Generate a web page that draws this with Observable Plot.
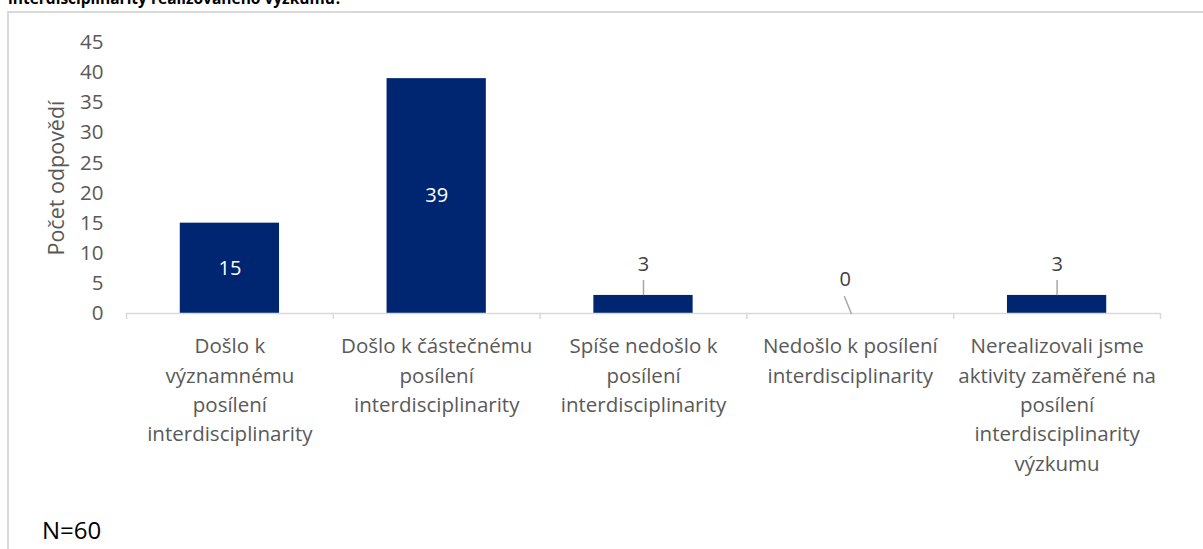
<!DOCTYPE html>
<html>
<head>
<meta charset="utf-8">
<script src="https://cdn.jsdelivr.net/npm/d3@7"></script>
<script src="https://cdn.jsdelivr.net/npm/@observablehq/plot@0.6"></script>
<style>
  html, body { margin: 0; padding: 0; background: #fff; overflow: hidden; }
  #wrap { position: relative; width: 1203px; height: 549px; overflow: hidden; font-family: "Open Sans", sans-serif; }
  #frame { position: absolute; left: 7px; top: 11px; width: 1300px; height: 700px; border: 2px solid #d9d9d9; box-sizing: border-box; pointer-events: none; }
  #title { position: absolute; left: 8px; top: -9px; font-size: 15.5px; font-weight: bold; line-height: 1; color: #000; white-space: nowrap; }
  #caption { position: absolute; left: 42px; top: 518px; font-size: 24px; line-height: 1; color: #000; }
  #chart { position: absolute; left: 0; top: 0; }
</style>
</head>
<body>
<div id="wrap">
  <div id="title"></div>
  <div id="frame"></div>
  <div id="chart"></div>
  <div id="caption"></div>
</div>
<script>
const titleText = "interdisciplinarity realizovaného výzkumu?";
const captionText = "N=60";
const yLabel = "Počet odpovědí";

const categories = [
  "Došlo k významnému posílení interdisciplinarity",
  "Došlo k částečnému posílení interdisciplinarity",
  "Spíše nedošlo k posílení interdisciplinarity",
  "Nedošlo k posílení interdisciplinarity",
  "Nerealizovali jsme aktivity zaměřené na posílení interdisciplinarity výzkumu"
];
const tickLabels = [
  "Došlo k\nvýznamnému\nposílení\ninterdisciplinarity",
  "Došlo k částečnému\nposílení\ninterdisciplinarity",
  "Spíše nedošlo k\nposílení\ninterdisciplinarity",
  "Nedošlo k posílení\ninterdisciplinarity",
  "Nerealizovali jsme\naktivity zaměřené na\nposílení\ninterdisciplinarity\nvýzkumu"
];
const values = [15, 39, 3, 0, 3];
const yTicks = [0, 5, 10, 15, 20, 25, 30, 35, 40, 45];

document.getElementById("title").textContent = titleText;
document.getElementById("caption").textContent = captionText;

const data = categories.map((c, i) => ({cat: c, value: values[i], label: tickLabels[i]}));
const inside = data.filter(d => d.value >= 10);
const outside = data.filter(d => d.value > 0 && d.value < 10);
const zero = data.filter(d => d.value === 0);

const W = 1203, H = 549, ML = 126, MR = 43, MT = 42, MB = 236;
const step = (W - ML - MR) / categories.length;
const labelOf = new Map(data.map(d => [d.cat, d.label]));
const line = {draw(ctx, l) { ctx.moveTo(0, 0); ctx.lineTo(0, -l); }};

const chart = Plot.plot({
  width: W,
  height: H,
  marginLeft: ML,
  marginRight: MR,
  marginTop: MT,
  marginBottom: MB,
  style: {fontFamily: "Open Sans, sans-serif", background: "transparent", overflow: "visible"},
  x: {domain: categories, paddingInner: 0.52, paddingOuter: 0.26, round: false, label: null},
  y: {domain: [0, 45], label: null},
  marks: [
    Plot.barY(data, {x: "cat", y: "value", fill: "#002672"}),
    Plot.ruleY([0], {stroke: "#d9d9d9", strokeWidth: 1.5}),
    Plot.ruleX(categories, {x: d => d, dx: -step / 2, y1: 0, y2: -1, stroke: "#d9d9d9", strokeWidth: 1.5}),
    Plot.ruleX([categories[categories.length - 1]], {x: d => d, dx: step / 2, y1: 0, y2: -1, stroke: "#d9d9d9", strokeWidth: 1.5}),
    Plot.axisY({ticks: yTicks, tickSize: 0, tickPadding: 23, fontSize: 20.5, color: "#595959", label: null}),
    Plot.axisX({tickSize: 0, tickPadding: 19, fontSize: 20.5, lineHeight: 1.43, color: "#595959", tickFormat: d => labelOf.get(d), label: null}),
    Plot.text([yLabel], {frameAnchor: "left", textAnchor: "middle", dx: -69, rotate: -90, fontSize: 21.5, fill: "#595959", text: d => d}),
    Plot.text(inside, {x: "cat", y: d => d.value / 2, text: d => String(d.value), fill: "white", fontSize: 20}),
    Plot.text(outside, {x: "cat", y: "value", text: d => String(d.value), fill: "#404040", fontSize: 20, dy: -31}),
    Plot.text(zero, {x: "cat", y: "value", text: d => String(d.value), fill: "#404040", fontSize: 20, dy: -34, dx: -5}),
    Plot.vector(outside, {x: "cat", y: "value", length: 14, rotate: 0, anchor: "start", shape: line, stroke: "#a6a6a6", strokeWidth: 1.5, dy: -1}),
    Plot.vector(zero, {x: "cat", y: "value", length: 18, rotate: -22, anchor: "start", shape: line, stroke: "#a6a6a6", strokeWidth: 1.5, dx: 1})
  ]
});
document.getElementById("chart").appendChild(chart);
</script>
</body>
</html>
